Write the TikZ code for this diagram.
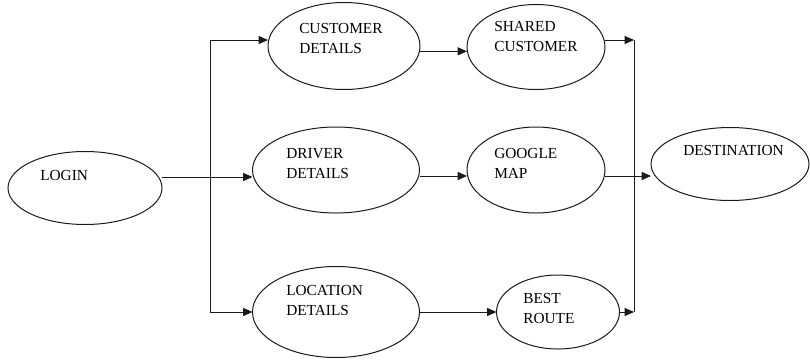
\documentclass[tikz,border=0pt]{standalone}
\usepackage{fontspec}
\setmainfont{Liberation Serif}
\newfontfamily\stagefont{Liberation Serif}
\usepackage{xcolor}
\definecolor{flow-line}{HTML}{1A1A1A}
\usepackage{tikz}
\usetikzlibrary{shapes.geometric,arrows.meta}

\tikzset{
    stage/.style={ellipse, draw=flow-line, line width=0.75pt, inner sep=0pt, outer sep=0pt},
    caption/.style={anchor=north west, inner sep=0pt, align=left, font=\stagefont\fontsize{11.5pt}{15pt}\selectfont},
    flow/.style={draw=flow-line, line width=0.75pt},
    >={Triangle[length=7pt,width=6pt]}
}

\begin{document}
\begin{tikzpicture}[x=0.75pt, y=-0.75pt]

    % Canvas
    \useasboundingbox (0, 0) rectangle (810, 362);

    % Stages
    \node[stage, minimum width=115.5pt, minimum height=54.75pt] (login) at (85, 188) {};
    \node[stage, minimum width=114pt, minimum height=65.25pt] (cust) at (344, 46) {};
    \node[stage, minimum width=125.25pt, minimum height=64.5pt] (drive) at (336, 170) {};
    \node[stage, minimum width=125.25pt, minimum height=68.25pt] (loc) at (336, 312) {};
    \node[stage, minimum width=103.5pt, minimum height=63.75pt] (shared) at (536, 47) {};
    \node[stage, minimum width=103.5pt, minimum height=64.5pt] (gmap) at (536, 170) {};
    \node[stage, minimum width=92.25pt, minimum height=55.5pt] (route) at (558, 312) {};
    \node[stage, minimum width=118.5pt, minimum height=54.75pt] (dest) at (730, 164) {};

    % Captions
    \node[caption] (login-txt) at (40, 170) {LOGIN};
    \node[caption] (cust-txt) at (299, 23) {CUSTOMER\\DETAILS};
    \node[caption] (drive-txt) at (286, 148) {DRIVER\\DETAILS};
    \node[caption] (loc-txt) at (286, 285) {LOCATION\\DETAILS};
    \node[caption] (shared-txt) at (494, 21) {SHARED\\CUSTOMER};
    \node[caption] (gmap-txt) at (494, 148) {GOOGLE\\MAP};
    \node[caption] (route-txt) at (523, 293) {BEST\\ROUTE};
    \node[caption] (dest-txt) at (683, 145) {DESTINATION};

    % Fork after login
    \coordinate (fork) at (210, 177);
    \coordinate (fork-top) at (210, 40);
    \coordinate (fork-bot) at (210, 312);
    \draw[flow] (login.east |- fork) -- (fork);
    \draw[flow] (fork-top) -- (fork-bot);
    \draw[flow, ->] (fork) -- (fork -| drive.west);
    \draw[flow, ->] (fork-top) -- (fork-top -| cust.west);
    \draw[flow, ->] (fork-bot) -- (loc.west);

    % Middle column
    \draw[flow, ->] ([yshift=-4pt]cust.east) -- ([yshift=-4pt]cust.east -| shared.west);
    \draw[flow, ->] ([yshift=-4.5pt]drive.east) -- ([yshift=-4.5pt]drive.east -| gmap.west);
    \draw[flow, ->] (loc.east) -- (loc.east -| route.west);

    % Join before destination
    \coordinate (join-top) at (634, 40);
    \coordinate (join-bot) at (634, 312);
    \draw[flow] (join-top) -- (join-bot);
    \draw[flow, ->] (shared.east |- join-top) -- (join-top);
    \draw[flow, ->] (route.east) -- (join-bot);
    \draw[flow, ->] ([yshift=-4.5pt]gmap.east) -- ([yshift=-4.5pt]gmap.east -| dest.west);

\end{tikzpicture}
\end{document}
